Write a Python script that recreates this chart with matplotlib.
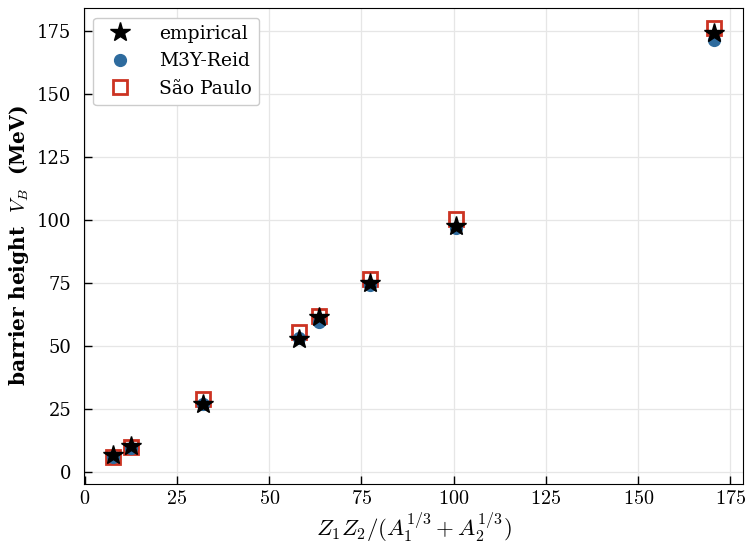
import matplotlib
matplotlib.use('Agg')
import matplotlib.pyplot as plt

plt.rcParams['font.family'] = 'DejaVu Serif'
plt.rcParams['mathtext.fontset'] = 'cm'

# data
zz = [7.7, 12.5, 32.1, 58.1, 63.5, 77.3, 100.6, 170.5]
v_emp = [6.5, 10.3, 27.0, 52.8, 61.5, 74.8, 97.5, 174.0]
v_m3y = [5.8, 9.6, 27.0, 53.0, 59.3, 74.0, 96.6, 171.2]
v_sp = [6.0, 10.0, 29.0, 55.3, 61.8, 76.5, 100.2, 176.2]
xticks = [0, 25, 50, 75, 100, 125, 150, 175]
yticks = [0, 25, 50, 75, 100, 125, 150, 175]

fig = plt.figure(figsize=(7.46, 5.43), dpi=100)
ax = fig.add_axes([0.1126, 0.109, 0.8834, 0.876])

ax.plot(zz, v_m3y, 'o', color='#2e6b9e', ms=8.5, ls='none', label='M3Y-Reid', zorder=3)
ax.plot(zz, v_sp, 's', mfc='none', mec='#cc3322', mew=2, ms=9.5, ls='none', label='São Paulo', zorder=2)
ax.plot(zz, v_emp, '*', color='black', ms=15, ls='none', label='empirical', zorder=4)

h, l = ax.get_legend_handles_labels()
order = [2, 0, 1]
ax.legend([h[i] for i in order], [l[i] for i in order], loc='upper left',
          fontsize=13.5, framealpha=1, edgecolor='#cccccc', borderpad=0.4,
          handletextpad=1.1, bbox_to_anchor=(0.0, 1.0))

ax.set_xlim(-0.2, 178.4)
ax.set_ylim(-4.8, 184)
ax.set_xticks(xticks)
ax.set_xticklabels([f'${t}$' for t in xticks], fontsize=14.5)
ax.set_yticks(yticks)
ax.tick_params(axis='y', labelsize=13, pad=9)
ax.tick_params(direction='in', length=6, width=1)
ax.grid(True, color='#e6e6e6', lw=0.9)
ax.set_axisbelow(True)

ax.set_xlabel(r'$Z_1Z_2/(A_1^{1/3}+A_2^{1/3})$', fontsize=16.5, labelpad=2)
ax.set_ylabel(r'barrier height  $V_B$  (MeV)', fontsize=14.5, fontweight='bold', labelpad=4)

plt.savefig('out.png', dpi=100)
plt.close()
